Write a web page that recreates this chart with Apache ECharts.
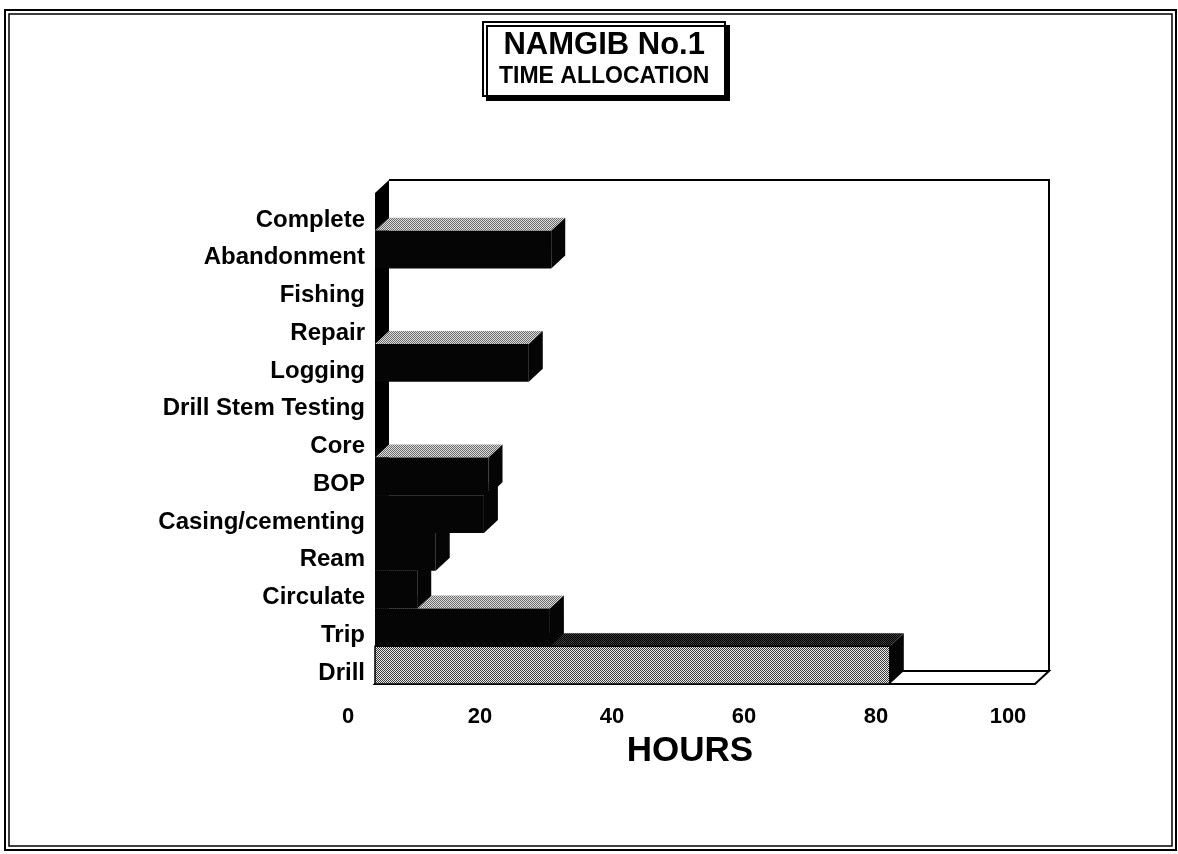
<!DOCTYPE html>
<html>
<head>
<meta charset="utf-8">
<script src="https://cdn.jsdelivr.net/npm/echarts@6/dist/echarts.min.js"></script>
<style>
  html, body { margin: 0; padding: 0; background: #fff; }
  #chart { width: 1178px; height: 854px; }
</style>
</head>
<body>
<div id="chart"></div>
<script>
// categories top to bottom, as printed on the chart
const categories = ['Complete', 'Abandonment', 'Fishing', 'Repair', 'Logging', 'Drill Stem Testing',
    'Core', 'BOP', 'Casing/cementing', 'Ream', 'Circulate', 'Trip', 'Drill'];
// hours
const hours = [0, 26.7, 0, 0, 23.3, 0, 0, 17.2, 16.5, 9.2, 6.4, 26.5, 78];
const hourTicks = [0, 20, 40, 60, 80, 100];

const DX = 14, DY = 13; // depth of the fake 3d

// small stipple patterns like the old printout
function makePattern(a, b) {
    const c = document.createElement('canvas');
    c.width = 2; c.height = 2;
    const ctx = c.getContext('2d');
    ctx.fillStyle = b; ctx.fillRect(0, 0, 2, 2);
    ctx.fillStyle = a; ctx.fillRect(0, 0, 1, 1); ctx.fillRect(1, 1, 1, 1);
    return { image: c, repeat: 'repeat' };
}
const topStipple = makePattern('#6a6a6a', '#dedede');
const checker = makePattern('#3a3a3a', '#eaeaea');
const darkStipple = makePattern('#000', '#3a3a3a');

const chart = echarts.init(document.getElementById('chart'));

function renderFrame(params, api) {
    const cs = params.coordSys;
    const x = cs.x, y = cs.y, w = cs.width, h = cs.height;
    return {
        type: 'group',
        children: [
            { // left wall
                type: 'polygon',
                shape: { points: [[x, y], [x + DX, y - DY], [x + DX, y + h - DY], [x, y + h]] },
                style: { fill: '#000' }
            },
            { // back wall edges
                type: 'polyline',
                shape: { points: [[x + DX, y - DY], [x + w + DX, y - DY], [x + w + DX, y + h - DY]] },
                style: { stroke: '#000', lineWidth: 2, fill: null }
            },
            { // floor
                type: 'polygon',
                shape: { points: [[x, y + h], [x + w, y + h], [x + w + DX, y + h - DY], [x + DX, y + h - DY]] },
                style: { fill: '#fff', stroke: '#000', lineWidth: 2 }
            }
        ]
    };
}

function renderBar(params, api) {
    const idx = api.value(0);
    const v = api.value(1);
    if (!v) return;
    const p0 = api.coord([0, idx]);
    const p1 = api.coord([v, idx]);
    const bh = api.size([0, 1])[1];
    const x0 = p0[0], x1 = p1[0];
    const y0 = p0[1] - bh / 2, y1 = p0[1] + bh / 2;
    const last = idx === categories.length - 1;
    const z2 = 100 - idx;
    return {
        type: 'group',
        children: [
            {
                type: 'polygon', z2: z2,
                shape: { points: [[x0, y0], [x0 + DX, y0 - DY], [x1 + DX, y0 - DY], [x1, y0]] },
                style: { fill: last ? darkStipple : topStipple }
            },
            {
                type: 'rect', z2: z2,
                shape: { x: x0, y: y0, width: x1 - x0, height: y1 - y0 },
                style: last ? { fill: checker, stroke: '#000', lineWidth: 1.5 } : { fill: '#050505' }
            },
            {
                type: 'polygon', z2: z2,
                shape: { points: [[x1, y0], [x1 + DX, y0 - DY], [x1 + DX, y1 - DY], [x1, y1]] },
                style: { fill: '#050505' }
            }
        ]
    };
}

const option = {
    backgroundColor: '#fff',
    animation: false,
    title: {
        text: '{a|NAMGIB No.1}\n{b|TIME ALLOCATION}',
        left: 483,
        top: 20,
        padding: [8, 16, 8, 16],
        borderColor: '#000',
        borderWidth: 2,
        backgroundColor: '#fff',
        shadowColor: '#000',
        shadowBlur: 0,
        shadowOffsetX: 4,
        shadowOffsetY: 4,
        textStyle: {
            fontFamily: 'Liberation Sans',
            rich: {
                a: { fontSize: 31, fontWeight: 'bold', color: '#000', lineHeight: 35, align: 'center' },
                b: { fontSize: 23, fontWeight: 'bold', color: '#000', lineHeight: 27, align: 'center' }
            }
        }
    },
    graphic: [
        { type: 'rect', shape: { x: 5, y: 10, width: 1171, height: 840 }, style: { fill: null, stroke: '#000', lineWidth: 2 }, silent: true },
        { type: 'rect', shape: { x: 9, y: 14, width: 1163, height: 832 }, style: { fill: null, stroke: '#000', lineWidth: 1.5 }, silent: true }
    ],
    grid: { left: 375, right: 143, top: 193, bottom: 170 },
    xAxis: {
        type: 'value',
        min: hourTicks[0],
        max: hourTicks[hourTicks.length - 1],
        interval: 20,
        axisLine: { show: false },
        axisTick: { show: false },
        splitLine: { show: false },
        axisLabel: {
            color: '#000',
            fontFamily: 'Liberation Sans',
            fontWeight: 'bold',
            fontSize: 22,
            margin: 22,
            padding: [0, 54, 0, 0]
        },
        name: 'HOURS',
        nameLocation: 'middle',
        nameGap: 50,
        nameTextStyle: {
            color: '#000',
            fontFamily: 'Liberation Sans',
            fontWeight: 'bold',
            fontSize: 35,
            padding: [0, 30, 0, 0]
        }
    },
    yAxis: {
        type: 'category',
        data: categories,
        inverse: true,
        axisLine: { show: false },
        axisTick: { show: false },
        splitLine: { show: false },
        axisLabel: {
            color: '#000',
            fontFamily: 'Liberation Sans',
            fontWeight: 'bold',
            fontSize: 24,
            margin: 10,
            verticalAlign: 'top',
            lineHeight: 16
        }
    },
    series: [
        {
            type: 'custom',
            name: 'frame',
            z: 1,
            silent: true,
            data: [[0, 0]],
            renderItem: renderFrame
        },
        {
            type: 'custom',
            name: 'hours',
            z: 2,
            encode: { x: 1, y: 0 },
            data: categories.map((c, i) => [i, hours[i]]),
            renderItem: renderBar
        }
    ]
};

chart.setOption(option);
</script>
</body>
</html>
